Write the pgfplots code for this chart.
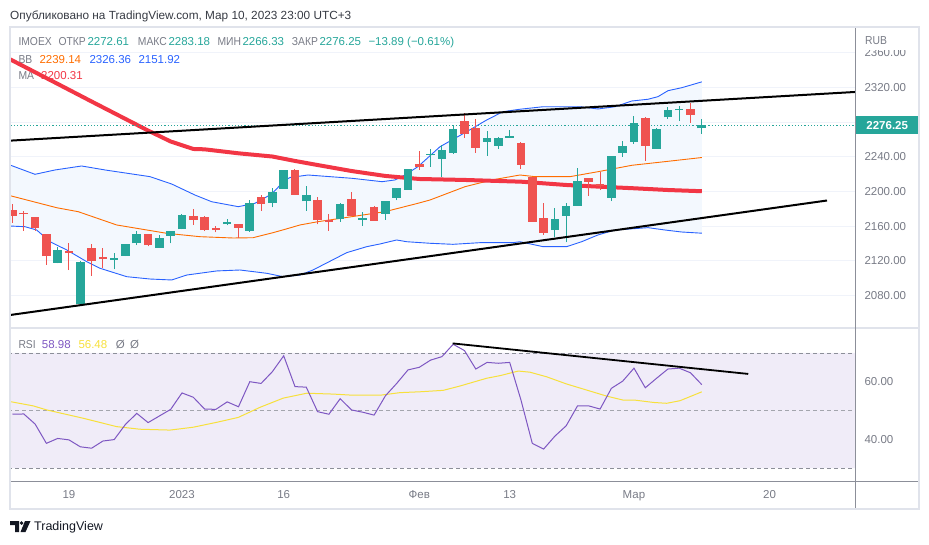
\documentclass[border=0pt]{standalone}
\usepackage{pgfplots}
\pgfplotsset{compat=1.18}
\usepackage{pgfplotstable}
\usepackage{fontspec}
\setmainfont{Liberation Sans}
\newfontfamily\nar[FakeStretch=0.9]{Liberation Sans}

\definecolor{upc}{HTML}{26A69A}
\definecolor{dnc}{HTML}{EF5350}
\definecolor{mac}{HTML}{F23645}
\definecolor{bbo}{HTML}{FF6D00}
\definecolor{bbb}{HTML}{2962FF}
\definecolor{bbfill}{HTML}{F3F8FE}
\definecolor{gridc}{HTML}{F0F3FA}
\definecolor{txt}{HTML}{787B86}
\definecolor{rsic}{HTML}{7E57C2}
\definecolor{rsima}{HTML}{F7E03C}
\definecolor{rsiband}{HTML}{F0ECF8}
\definecolor{framec}{HTML}{E0E3EB}
\definecolor{axc}{HTML}{8C8F99}
\definecolor{dark}{HTML}{131722}

% candles: index (Dec 19 2022 = 0), open, high, low, close
\pgfplotstableread{
i o h l c
-1 2117.9 2136.4 2117.2 2132.6
1 2070.0 2119.5 2069.5 2118.7
4 2121.4 2128.8 2110.3 2123.4
5 2126.0 2140.0 2125.5 2139.5
6 2140.3 2154.1 2138.3 2151.0
8 2135.2 2149.9 2135.0 2146.4
9 2149.1 2154.5 2140.3 2154.5
10 2156.4 2174.5 2156.4 2173.3
14 2162.3 2168.3 2161.0 2164.3
16 2154.5 2190.2 2153.7 2186.7
18 2187.1 2203.6 2181.6 2199.4
19 2203.2 2225.0 2203.0 2224.4
21 2188.7 2206.3 2177.9 2196.0
24 2168.0 2186.5 2165.2 2185.6
26 2167.5 2176.0 2160.6 2169.1
28 2174.4 2189.5 2167.2 2189.0
29 2192.9 2204.5 2189.8 2204.0
30 2202.1 2226.0 2202.0 2225.9
32 2241.9 2249.3 2228.6 2243.4
33 2237.8 2253.6 2217.1 2247.8
34 2244.7 2275.9 2243.5 2272.0
37 2257.4 2269.7 2241.3 2261.7
38 2252.8 2263.2 2249.3 2261.7
39 2261.7 2270.9 2261.7 2263.6
43 2155.6 2180.6 2147.9 2168.0
44 2172.1 2187.1 2141.4 2183.3
45 2183.6 2227.1 2183.6 2211.8
48 2192.9 2240.9 2189.0 2240.9
49 2244.7 2258.2 2240.1 2252.1
50 2257.4 2287.0 2254.8 2279.0
52 2249.3 2273.2 2249.3 2272.0
53 2285.5 2297.8 2283.6 2294.0
54 2293.6 2298.6 2281.6 2295.1
56 2272.61 2283.18 2266.33 2276.25
}\upT

\pgfplotstableread{
i o h l c
-5 2178.7 2185.2 2164.0 2172.1
-4 2175.6 2177.2 2154.8 2173.7
-3 2170.6 2171.0 2154.8 2158.3
-2 2151.0 2151.5 2115.3 2125.6
0 2131.4 2140.3 2109.5 2128.8
2 2134.5 2139.5 2102.9 2120.3
3 2124.5 2134.5 2111.5 2122.5
7 2150.7 2151.5 2136.8 2138.3
11 2171.8 2180.2 2161.4 2167.2
12 2171.0 2171.8 2154.4 2155.6
13 2157.6 2160.2 2153.0 2155.6
15 2162.5 2162.5 2146.1 2158.3
17 2194.0 2195.6 2177.9 2185.2
20 2224.8 2226.3 2196.3 2196.3
22 2190.2 2194.0 2162.2 2167.1
23 2167.1 2174.4 2154.8 2165.2
25 2191.0 2199.4 2172.1 2172.1
27 2181.8 2183.3 2166.3 2166.3
31 2231.4 2246.7 2224.8 2228.2
35 2281.3 2290.1 2261.7 2266.6
36 2273.2 2283.6 2244.7 2250.5
40 2255.6 2257.4 2226.3 2230.9
41 2217.1 2217.1 2165.2 2165.2
42 2169.1 2186.4 2149.9 2152.5
46 2215.2 2215.2 2195.2 2211.3
47 2208.6 2222.5 2201.7 2206.7
51 2284.7 2285.9 2235.5 2252.8
55 2295.1 2302.4 2279.3 2288.5
}\dnT

\pgfplotstableread{
i p
-5.22 2352.4
-1 2324.0
2 2303.7
6 2276.9
7 2270.2
9 2257.6
11 2249.0
12 2248.6
15 2244.0
18 2240.3
20 2235.2
22 2230.5
25 2223.6
28 2217.9
31 2214.4
35 2213.3
40 2211.3
44 2207.5
47 2205.5
50 2203.7
53 2201.7
56 2200.31
}\maT

\pgfplotstableread{
i p
-5.22 2195.2
-1.09 2181.3
0.82 2176.7
4.22 2161.4
8.65 2151.8
11.59 2147.9
14.51 2146.4
16.28 2146.7
18.05 2152.5
19.12 2156.4
20.44 2161.4
22.04 2165.2
25.04 2171.0
27.96 2176.7
30.88 2186.4
31.95 2190.2
35.04 2205.5
37.43 2213.3
39.91 2219.0
41.24 2217.1
44.34 2217.1
46.81 2222.8
49.82 2230.2
52.74 2234.4
56 2239.14
}\bbmT

\pgfplotstableread{
i p
-5.22 2230.5
-3.01 2219.8
-1.24 2224.8
1.12 2229.4
3.19 2224.8
7.17 2217.1
9.09 2208.6
11.15 2195.9
12.63 2188.2
14.98 2182.5
16.46 2186.4
17.94 2197.1
19.12 2213.3
19.56 2216.1
21.15 2219.0
25.04 2215.2
27.70 2211.3
28.85 2213.3
29.73 2219.0
30.88 2228.6
32.83 2251.6
35.19 2268.9
36.96 2282.4
38.41 2292.0
39.91 2294.8
41.95 2297.7
45.22 2297.7
46.81 2295.1
48.32 2297.7
49.80 2304.3
51.24 2306.3
52.12 2309.3
53.01 2316.2
54.25 2319.7
56 2326.36
}\bbuT

\pgfplotstableread{
i p
-5.22 2160.2
-3.89 2159.4
-2.86 2155.6
-1.68 2142.1
-0.20 2132.6
1.57 2119.1
2.74 2111.5
5.11 2101.8
7.17 2099.1
9.09 2098.0
10.42 2103.7
13.07 2108.4
15.13 2109.5
17.50 2105.7
18.94 2101.8
20.44 2103.7
21.59 2109.5
24.58 2129.5
26.35 2136.4
27.52 2139.5
29.00 2144.1
29.88 2142.1
31.95 2140.3
33.98 2139.1
36.37 2141.0
39.29 2141.0
39.91 2142.1
41.95 2136.4
44.04 2136.4
45.37 2142.1
46.81 2149.9
48.32 2155.6
51.24 2158.3
52.74 2155.6
54.22 2153.3
56 2151.92
}\bblT

% band outline: upper band, then lower band in reverse
\pgfplotstableread{
i p
-5.22 2230.5
-3.01 2219.8
-1.24 2224.8
1.12 2229.4
3.19 2224.8
7.17 2217.1
9.09 2208.6
11.15 2195.9
12.63 2188.2
14.98 2182.5
16.46 2186.4
17.94 2197.1
19.12 2213.3
19.56 2216.1
21.15 2219.0
25.04 2215.2
27.70 2211.3
28.85 2213.3
29.73 2219.0
30.88 2228.6
32.83 2251.6
35.19 2268.9
36.96 2282.4
38.41 2292.0
39.91 2294.8
41.95 2297.7
45.22 2297.7
46.81 2295.1
48.32 2297.7
49.80 2304.3
51.24 2306.3
52.12 2309.3
53.01 2316.2
54.25 2319.7
56 2326.36
56 2151.92
54.22 2153.3
52.74 2155.6
51.24 2158.3
48.32 2155.6
46.81 2149.9
45.37 2142.1
44.04 2136.4
41.95 2136.4
39.91 2142.1
39.29 2141.0
36.37 2141.0
33.98 2139.1
31.95 2140.3
29.88 2142.1
29.00 2144.1
27.52 2139.5
26.35 2136.4
24.58 2129.5
21.59 2109.5
20.44 2103.7
18.94 2101.8
17.50 2105.7
15.13 2109.5
13.07 2108.4
10.42 2103.7
9.09 2098.0
7.17 2099.1
5.11 2101.8
2.74 2111.5
1.57 2119.1
-0.20 2132.6
-1.68 2142.1
-2.86 2155.6
-3.89 2159.4
-5.22 2160.2
}\bbfT

\pgfplotstableread{
i r
-5 48.7
-4 48.8
-3 45.3
-2 38.6
-1 40.3
0 39.8
1 37.4
2 36.9
3 39.4
4 39.9
5 45.2
6 49.0
7 45.8
8 48.1
9 50.4
10 56.1
11 54.6
12 50.5
13 50.4
14 53.0
15 51.3
16 60.0
17 59.4
18 63.5
19 69.0
20 58.3
21 58.1
22 49.6
23 48.7
24 54.1
25 50.2
26 49.4
27 48.4
28 55.1
29 59.4
30 64.1
31 65.0
32 67.5
33 68.7
34 73.0
35 70.8
36 64.4
37 66.7
38 66.4
39 66.7
40 53.6
41 38.6
42 36.6
43 41.1
44 44.7
45 51.6
46 51.6
47 50.5
48 57.7
49 60.2
50 64.7
51 57.9
52 61.2
53 64.4
54 64.7
55 63.1
56 58.98
}\rsiT

\pgfplotstableread{
i r
-5.22 53.1
-3.16 51.6
-1.97 50.2
1.27 47.3
4.22 44.4
6.28 43.5
8.94 43.2
11.0 44.2
13.07 45.9
14.98 47.6
16.90 51.1
18.96 54.3
21.04 56.0
23.4 55.7
25.16 55.3
27.52 55.3
29.29 56.2
31.06 56.5
33.12 57.0
34.6 58.5
36.96 61.2
38.14 62.1
39.76 63.7
40.8 63.3
42.27 61.7
44.04 59.2
45.81 57.1
47.58 55.0
49.05 53.6
50.09 53.6
51.71 52.8
52.89 52.5
54.07 53.4
56 56.48
}\rsimaT

\pgfplotsset{
  tvaxis/.style={scale only axis, width=845pt,
    xmin=-5.221, xmax=69.558,
    axis line style={draw=none}, major tick length=0pt,
    ymajorgrids, grid style={gridc, line width=1pt},
    yticklabel pos=right,
    yticklabel style={anchor=west, xshift=6pt, text=txt,
      font=\fontsize{11.5}{13}\selectfont}},
}

\tikzset{lab/.style={inner sep=0pt, anchor=base west, font=\fontsize{11.5}{13}\selectfont}}

\begin{document}
\begin{tikzpicture}[x=1pt,y=1pt]
\path[use as bounding box] (0,0) rectangle (929,544);

% header
\node[lab, font=\fontsize{11.8}{13}\selectfont, text=dark!85] at (10,524.7) {Опубликовано на TradingView.com, Мар 10, 2023 23:00 UTC+3};

% legend rows
\node[lab, text=txt] at (18.3,498.1) {\nar IMOEX};
\node[lab, text=txt] at (58.3,498.1) {\nar ОТКР};
\node[lab, text=upc] at (87.3,498.1) {2272.61};
\node[lab, text=txt] at (137.7,498.1) {\nar МАКС};
\node[lab, text=upc] at (168.3,498.1) {2283.18};
\node[lab, text=txt] at (217.3,498.1) {\nar МИН};
\node[lab, text=upc] at (242.3,498.1) {2266.33};
\node[lab, text=txt] at (291.7,498.1) {\nar ЗАКР};
\node[lab, text=upc] at (319.3,498.1) {2276.25};
\node[lab, text=upc] at (368.3,498.1) {−13.89 (−0.61\%)};
\node[lab, text=txt] at (18.3,480.5) {\nar BB};
\node[lab, text=bbo] at (39.3,480.5) {2239.14};
\node[lab, text=bbb] at (89.3,480.5) {2326.36};
\node[lab, text=bbb] at (138.3,480.5) {2151.92};
\node[lab, text=txt] at (18.3,464.8) {\nar MA};
\node[lab, text=mac] at (41,464.8) {2200.31};
% RSI legend
\node[lab, text=txt] at (18.3,195.1) {\nar RSI};
\node[lab, text=rsic] at (41.7,195.1) {58.98};
\node[lab, text=rsima] at (78.3,195.1) {56.48};
\node[lab, text=txt] at (115.7,195.1) {Ø};
\node[lab, text=txt] at (130,195.1) {Ø};

% price panel
\begin{axis}[tvaxis, at={(10pt,216pt)}, anchor=south west, height=301pt,
  ymin=2042.65, ymax=2389.6, xtick=\empty,
  ytick={2080,2120,2160,2200,2240,2280,2320,2360},
  yticklabels={2080.00,2120.00,2160.00,2200.00,2240.00,{},2320.00,2360.00}]
  \addplot[fill=bbfill, draw=none, forget plot] table[x=i,y=p] {\bbfT};
  \addplot[bbb, line width=0.9pt] table[x=i,y=p] {\bbuT};
  \addplot[bbb, line width=0.9pt] table[x=i,y=p] {\bblT};
  \addplot[bbo, line width=0.9pt] table[x=i,y=p] {\bbmT};
  \addplot[mac, line width=4pt, line join=round] table[x=i,y=p] {\maT};
  \addplot[upc, line width=1.2pt, dash pattern=on 1.2pt off 2pt] coordinates {(-6,2276.25) (70,2276.25)};
  % wicks and bodies as vertical segments (quiver with u=0)
  \addplot[upc, line width=1pt, mark=none, quiver={u=0, v=\thisrow{h}-\thisrow{l}}] table[x=i, y=l] {\upT};
  \addplot[upc, line width=8.6pt, mark=none, quiver={u=0, v=\thisrow{c}-\thisrow{o}}] table[x=i, y=o] {\upT};
  \addplot[dnc, line width=1pt, mark=none, quiver={u=0, v=\thisrow{h}-\thisrow{l}}] table[x=i, y=l] {\dnT};
  \addplot[dnc, line width=8.6pt, mark=none, quiver={u=0, v=\thisrow{o}-\thisrow{c}}] table[x=i, y=c] {\dnT};
  \addplot[black, line width=2pt] coordinates {(-5.22,2258.6) (69.56,2314.7)};
  \addplot[black, line width=2pt] coordinates {(-5.22,2057.6) (67.08,2189.6)};
\end{axis}

% RSI panel
\begin{axis}[tvaxis, at={(10pt,63pt)}, anchor=south west, height=153pt,
  ymin=25.52, ymax=78.65, ytick={40,60}, yticklabels={40.00,60.00},
  xtick={0,10,19,31,39,50,62}, xticklabels={19,2023,16,Фев,13,Мар,20},
  xticklabel style={anchor=base, yshift=-17.2pt, text=txt, font=\fontsize{11.5}{13}\selectfont}]
  \addplot[fill=rsiband, draw=none, forget plot] coordinates {(-6,30) (70,30) (70,70) (-6,70) (-6,30)};
  \addplot[axc, line width=0.8pt, dash pattern=on 4pt off 3pt] coordinates {(-6,70) (70,70)};
  \addplot[axc!80, line width=0.8pt, dash pattern=on 4pt off 3pt] coordinates {(-6,50) (70,50)};
  \addplot[axc, line width=0.8pt, dash pattern=on 4pt off 3pt] coordinates {(-6,30) (70,30)};
  \addplot[rsima, line width=1pt] table[x=i,y=r] {\rsimaT};
  \addplot[rsic, line width=1pt] table[x=i,y=r] {\rsiT};
  \addplot[black, line width=1.8pt] coordinates {(33.95,73.3) (60.11,62.7)};
\end{axis}

% frame and separators
\fill[white] (856,493.5) rectangle (917.5,515.5);
\node[lab, text=txt] at (865,499.2) {\nar RUB};
\draw[framec, line width=1.5pt] (10,216) -- (918,216);
\draw[axc, line width=0.8pt] (855,516.5) -- (855,35.5);
\draw[axc, line width=0.8pt] (10,63) -- (918,63);
\draw[framec, line width=2pt] (9.5,516.5) rectangle (918.5,35.5);
\node[inner sep=0pt, fill=upc, text=white, minimum width=62pt, minimum height=18pt, anchor=west,
  font=\fontsize{11.5}{13}\selectfont\bfseries] at (856,418.6) {2276.25};

% TradingView logo
\fill[dark] (10,23) -- (19,23) -- (19,12) -- (15,12) -- (15,19) -- (10,19) -- cycle;
\fill[dark] (21.6,21) circle (1.9);
\fill[dark] (25,23) -- (30.5,23) -- (25.5,12) -- (20.5,12) -- cycle;
\node[lab, font=\fontsize{12.5}{14}\selectfont, text=dark] at (34,13.5) {TradingView};
\end{tikzpicture}
\end{document}
